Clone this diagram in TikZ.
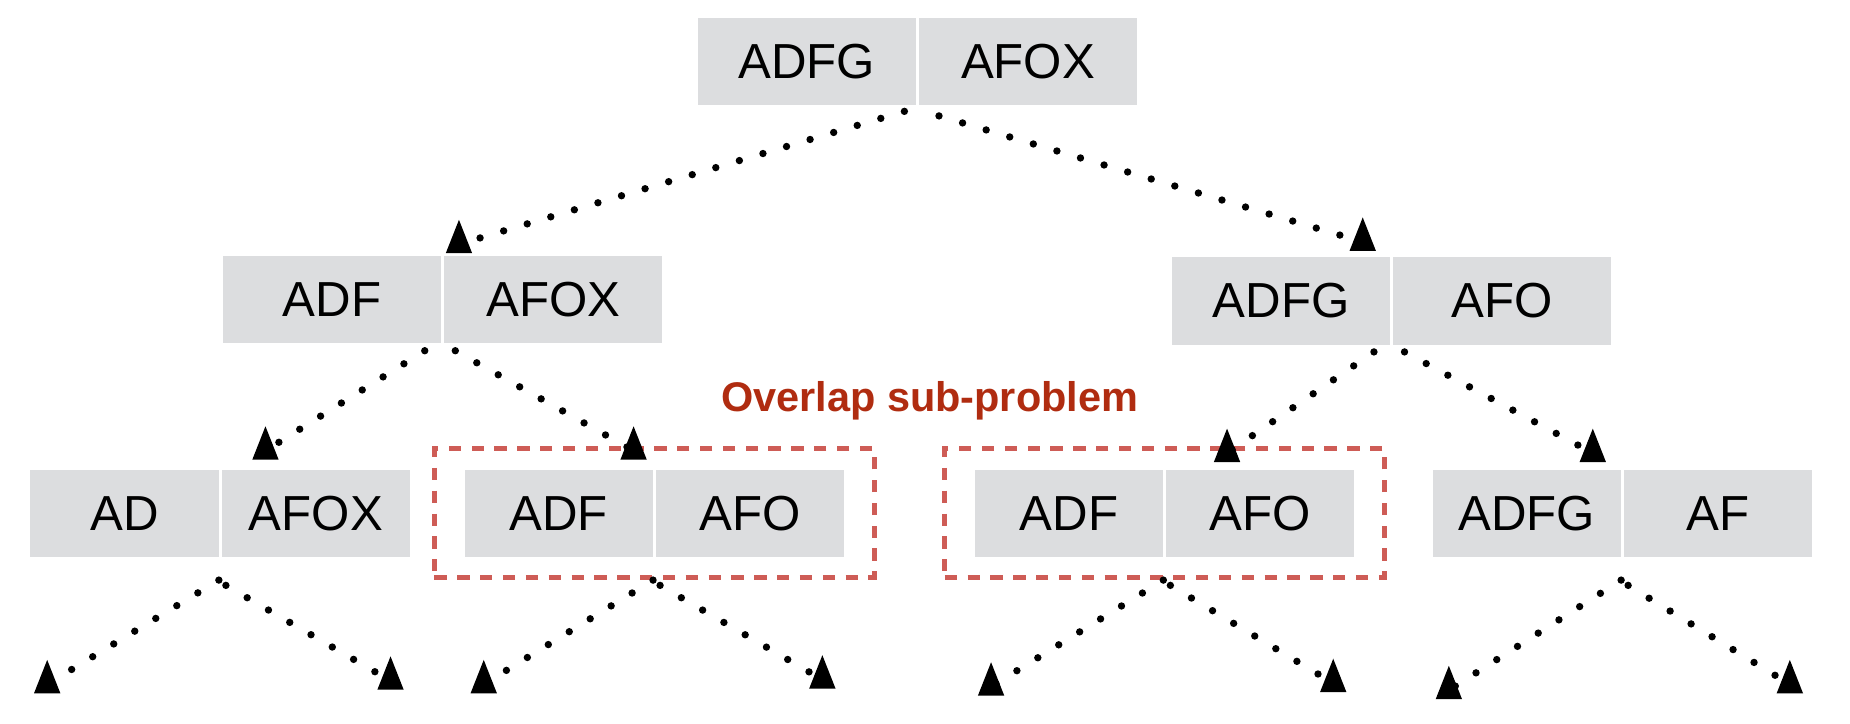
\documentclass[tikz,border=0pt]{standalone}
\usepackage{fontspec}
\setmainfont{Liberation Sans}
\usetikzlibrary{positioning, fit, shapes.geometric}
\definecolor{cellgray}{RGB}{220,221,223}
\definecolor{boxred}{RGB}{206,92,86}
\definecolor{labelred}{RGB}{176,44,16}

\begin{document}
\begin{tikzpicture}[x=0.236mm, y=-0.236mm,
    cell/.style={fill=cellgray, minimum width=124pt, minimum height=49.7pt, inner sep=0pt, font=\fontsize{28}{30}\selectfont},
    small/.style={cell, minimum width=107pt},
    link/.style={line width=4.2pt, line cap=round, dash pattern=on 0pt off 14pt},
    head/.style={isosceles triangle, isosceles triangle stretches, shape border rotate=90, fill, inner sep=0pt, minimum width=15pt, minimum height=19pt},
    overlap/.style={draw=boxred, line width=3pt, dash pattern=on 7pt off 6pt, inner xsep=17pt, inner ysep=11.7pt}]
    \useasboundingbox (0,0) rectangle (1568,613);
    % root
    \node[cell, anchor=east] at (776.5,52) (n0a) {ADFG};
    \node[cell, right=1.5pt of n0a] (n0b) {AFOX};
    % first level
    \node[cell, anchor=east] at (374,254) (n1a) {ADF};
    \node[cell, right=1.5pt of n1a] (n1b) {AFOX};
    \node[cell, anchor=east] at (1178.5,255) (n2a) {ADFG};
    \node[cell, right=1.5pt of n2a] (n2b) {AFO};
    % second level
    \node[small, anchor=east] at (185.5,435) (n3a) {AD};
    \node[small, right=1.5pt of n3a] (n3b) {AFOX};
    \node[small, anchor=east] at (553.5,435) (n4a) {ADF};
    \node[small, right=1.5pt of n4a] (n4b) {AFO};
    \node[small, anchor=east] at (986,435) (n5a) {ADF};
    \node[small, right=1.5pt of n5a] (n5b) {AFO};
    \node[small, anchor=east] at (1374,435) (n6a) {ADFG};
    \node[small, right=1.5pt of n6a] (n6b) {AF};
    % repeated sub-problems
    \node[overlap, fit=(n4a)(n4b)] (ov1) {};
    \node[overlap, fit=(n5a)(n5b)] (ov2) {};
    \node[font=\bfseries\fontsize{23.6}{26}\selectfont, text=labelred] at (788,340) (lab) {Overlap sub-problem};
    % free ends of the arrows
    \coordinate (e0a) at (389,207);
    \coordinate (e0b) at (1155,205);
    \coordinate (e1a) at (225,382);
    \coordinate (e1b) at (537,382);
    \coordinate (e2a) at (1040,384);
    \coordinate (e2b) at (1350,384);
    \coordinate (e3a) at (40,580);
    \coordinate (e3b) at (331,577);
    \coordinate (e4a) at (410,580);
    \coordinate (e4b) at (697,576);
    \coordinate (e5a) at (840,582);
    \coordinate (e5b) at (1130,579);
    \coordinate (e6a) at (1228,585);
    \coordinate (e6b) at (1517,580);
    \draw[link] ([xshift=-6.7pt,yshift=-3.4pt]n0a.south east) -- (e0a) node[head] {};
    \draw[link] ([xshift=13pt,yshift=-6pt]n0a.south east) -- (e0b) node[head] {};
    \draw[link] ([xshift=-9.4pt,yshift=-4pt]n1a.south east) -- (e1a) node[head] {};
    \draw[link] ([xshift=8pt,yshift=-4pt]n1a.south east) -- (e1b) node[head] {};
    \draw[link] ([xshift=-9.4pt,yshift=-4pt]n2a.south east) -- (e2a) node[head] {};
    \draw[link] ([xshift=8pt,yshift=-4pt]n2a.south east) -- (e2b) node[head] {};
    \draw[link] ([yshift=-13pt]n3a.south east) -- (e3a) node[head] {};
    \draw[link] ([xshift=4pt,yshift=-16pt]n3a.south east) -- (e3b) node[head] {};
    \draw[link] ([yshift=-13pt]n4a.south east) -- (e4a) node[head] {};
    \draw[link] ([xshift=4pt,yshift=-16pt]n4a.south east) -- (e4b) node[head] {};
    \draw[link] ([yshift=-13pt]n5a.south east) -- (e5a) node[head] {};
    \draw[link] ([xshift=4pt,yshift=-16pt]n5a.south east) -- (e5b) node[head] {};
    \draw[link] ([yshift=-13pt]n6a.south east) -- (e6a) node[head] {};
    \draw[link] ([xshift=4pt,yshift=-16pt]n6a.south east) -- (e6b) node[head] {};
\end{tikzpicture}
\end{document}
